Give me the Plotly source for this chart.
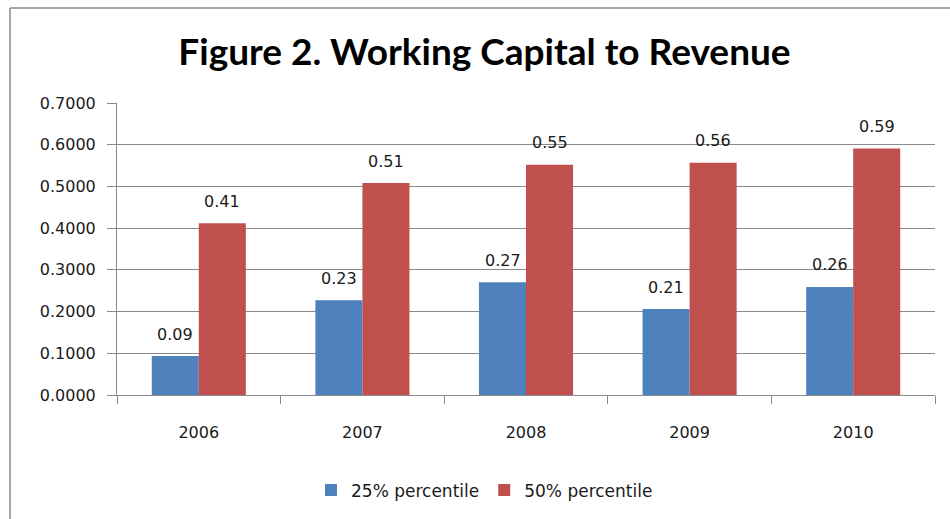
import plotly.graph_objects as go

years = ["2006", "2007", "2008", "2009", "2010"]
p25 = [0.0935, 0.227, 0.270, 0.206, 0.259]
p50 = [0.412, 0.508, 0.552, 0.557, 0.591]
series_names = ["25% percentile", "50% percentile"]
colors = ["#4F81BD", "#C0504D"]
yticks = [0, 0.1, 0.2, 0.3, 0.4, 0.5, 0.6, 0.7]

txt_color = "#1a1a1a"
label_font = dict(family="DejaVu Sans", size=16, color=txt_color)

fig = go.Figure()
for name, vals, col in zip(series_names, [p25, p50], colors):
    fig.add_trace(go.Bar(
        x=years, y=vals, name=name, marker=dict(color=col, line=dict(width=0)),
    ))

# value labels above each bar (x given as category index)
for vals, dx in zip([p25, p50], [-23.5, 23.5]):
    for i, v in enumerate(vals):
        fig.add_annotation(x=i, y=v, text=f"{v:.2f}", showarrow=False,
                           xshift=dx, yshift=22, yanchor="middle", xanchor="center",
                           font=label_font)

fig.update_layout(
    width=950, height=519,
    margin=dict(l=117, r=15, t=103, b=124),
    paper_bgcolor="white", plot_bgcolor="white",
    barmode="group", bargap=0.425, bargroupgap=0,
    title=dict(text="<b>Figure 2. Working Capital to Revenue</b>",
               font=dict(family="Lato", size=37, color="black"),
               x=0.51, xanchor="center", xref="container", y=0.9, yanchor="middle", yref="container"),
    showlegend=True,
    legend=dict(orientation="h", x=0.51, xanchor="center", xref="container",
                y=0.055, yanchor="middle", yref="container",
                font=dict(family="DejaVu Sans", size=17, color=txt_color),
                itemwidth=30, traceorder="normal"),
)
fig.update_yaxes(range=[0, 0.7], tickvals=yticks, tickformat=".4f",
                 showgrid=True, gridcolor="#8a8a8a", gridwidth=1,
                 showline=True, linecolor="#8a8a8a", linewidth=1,
                 ticks="outside", ticklen=9, tickcolor="#8a8a8a",
                 ticklabelstandoff=8,
                 tickfont=dict(family="DejaVu Sans", size=16, color=txt_color),
                 zeroline=False)
fig.update_xaxes(type="category", range=[-0.5, len(years) - 0.5],
                 showline=True, linecolor="#8a8a8a", linewidth=1,
                 ticks="outside", ticklen=8, tickcolor="#8a8a8a", tickson="boundaries",
                 ticklabelstandoff=23, tickangle=0,
                 tickfont=dict(family="DejaVu Sans", size=16, color=txt_color))

# chart frame: only left and top edges fall inside the picture
frame_line = dict(color="#8c8c8c", width=1.5)
fig.add_shape(type="line", xref="paper", yref="paper",
              x0=-0.1308, x1=-0.1308, y0=-0.6, y1=1.3253, line=frame_line, layer="below")
fig.add_shape(type="line", xref="paper", yref="paper",
              x0=-0.1308, x1=1.2, y0=1.3253, y1=1.3253, line=frame_line, layer="below")

fig.write_html("out.html", config={"displayModeBar": False},
               post_script="document.body.style.margin='0';document.body.style.overflow='hidden';")
